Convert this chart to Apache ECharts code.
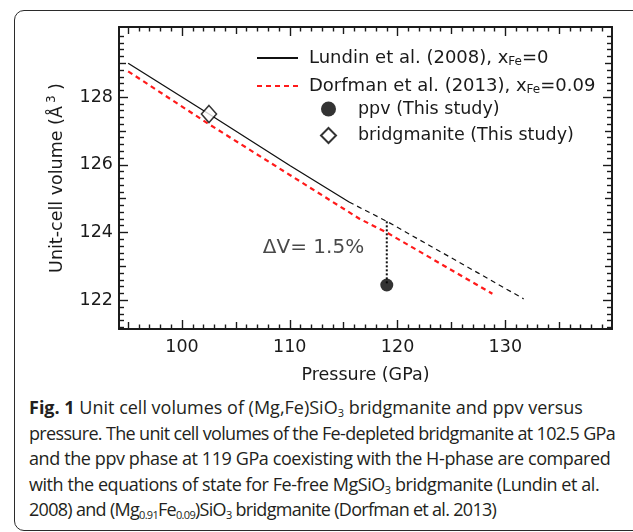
<!DOCTYPE html>
<html>
<head>
<meta charset="utf-8">
<script src="https://cdn.jsdelivr.net/npm/echarts@6/dist/echarts.min.js"></script>
<style>
  html, body { margin: 0; padding: 0; background: #fff; overflow: hidden; }
  #page { position: relative; width: 633px; height: 532px; overflow: hidden; }
  #box {
    position: absolute; left: 14px; top: 10px; width: 660px; height: 519px;
    border: 1.5px solid #2b2b2b; border-radius: 10px;
  }
  #chart { position: absolute; left: 0; top: 0; width: 633px; height: 392px; }
  #caption {
    position: absolute; left: 29px; top: 395px; width: 610px;
    font-family: "Open Sans", sans-serif; font-size: 18px; line-height: 25.5px;
    color: #231f20; white-space: nowrap;
  }
  #caption div { height: 25.5px; }
  #caption b { font-weight: 700; }
  #caption sub { font-size: 11px; vertical-align: -3px; line-height: 0; }
</style>
</head>
<body>
<div id="page">
  <div id="box"></div>
  <div id="chart"></div>
  <div id="caption">
    <div style="letter-spacing:0px"><b>Fig. 1</b> Unit cell volumes of (Mg,Fe)SiO<sub>3</sub> bridgmanite and ppv versus</div>
    <div style="letter-spacing:-0.66px">pressure. The unit cell volumes of the Fe-depleted bridgmanite at 102.5 GPa</div>
    <div style="letter-spacing:-0.4px">and the ppv phase at 119 GPa coexisting with the H-phase are compared</div>
    <div style="letter-spacing:-0.44px">with the equations of state for Fe-free MgSiO<sub>3</sub> bridgmanite (Lundin et al.</div>
    <div style="letter-spacing:-0.7px">2008) and (Mg<sub>0.91</sub>Fe<sub>0.09</sub>)SiO<sub>3</sub> bridgmanite (Dorfman et al. 2013)</div>
  </div>
</div>
<script>
// 读图得到的数据：压力 (GPa) / 体积 (Å^3)
const lundinSolid = [[95, 129.0], [102.5, 127.5], [110, 125.98], [115.5, 124.9]];
const lundinDashed = [[115.5, 124.9], [119, 124.33], [123, 123.61], [127.5, 122.8], [131.7, 122.04]];
const dorfman = [[95, 128.76], [102.5, 127.2], [110, 125.7], [116.5, 124.4], [119, 124.0], [127.5, 122.43], [128.8, 122.19]];
const ppv = [[119, 122.45]];
const bridgmanite = [[102.5, 127.5]];
const dvLine = [[119, 124.33], [119, 122.45]];
const dvLabel = [[112.2, 123.55]];

// 坐标轴
const X_MIN = 94.15, X_MAX = 139.9;
const Y_MIN = 121.15, Y_MAX = 130.07;
const X_LABELS = [100, 110, 120, 130];
const Y_LABELS = [122, 124, 126, 128];

const FONT = '"DejaVu Sans", sans-serif';
const FS = 17.5;
const INK = '#1a1a1a';

const NAMES = {
  lundin: 'Lundin et al. (2008), x_Fe=0',
  dorfman: 'Dorfman et al. (2013), x_Fe=0.09',
  ppv: 'ppv (This study)',
  bdg: 'bridgmanite (This study)',
};

// 刻度位置：小刻度 / 中刻度 / 大刻度
function steps(lo, hi, step) {
  const out = [];
  const n0 = Math.ceil(lo / step - 1e-9), n1 = Math.floor(hi / step + 1e-9);
  for (let n = n0; n <= n1; n++) out.push(+(n * step).toFixed(4));
  return out;
}
const xMinor = steps(X_MIN, X_MAX, 1).filter((v) => v % 5 !== 0);
const xMid = steps(X_MIN, X_MAX, 5).filter((v) => v % 10 !== 0);
const xMajor = X_LABELS;
const yMinor = steps(Y_MIN, Y_MAX, 0.2).filter((v) => Math.abs(v - Math.round(v)) > 1e-6);
const yMid = steps(Y_MIN, Y_MAX, 1).filter((v) => v % 2 !== 0);
const yMajor = Y_LABELS;

const tickLine = { color: INK, width: 1.4 };

function axis(pos, isX, ticks, len, labels, extra) {
  return Object.assign({
    type: 'value',
    position: pos,
    min: isX ? X_MIN : Y_MIN,
    max: isX ? X_MAX : Y_MAX,
    axisLine: { show: true, onZero: false, lineStyle: { color: INK, width: 1.5 } },
    axisTick: { show: true, inside: true, length: len, customValues: ticks, lineStyle: tickLine },
    axisLabel: labels
      ? { show: true, customValues: labels, color: INK, fontFamily: FONT, fontSize: FS, margin: isX ? 9 : 6 }
      : { show: false },
    splitLine: { show: false },
    minorTick: { show: false },
  }, extra || {});
}

const xAxes = [
  axis('bottom', true, xMajor, 9, X_LABELS, {
    name: 'Pressure (GPa)', nameLocation: 'middle', nameGap: 37,
    nameTextStyle: { color: INK, fontFamily: FONT, fontSize: FS },
  }),
  axis('bottom', true, xMid, 7),
  axis('bottom', true, xMinor, 4.5),
  axis('top', true, xMajor, 9),
  axis('top', true, xMid, 7),
  axis('top', true, xMinor, 4.5),
];
const yAxes = [
  axis('left', false, yMajor, 9, Y_LABELS, {
    name: '{t|Unit-cell volume (Å}{s|3}{t| )}', nameLocation: 'middle', nameGap: 51,
    nameTextStyle: {
      color: INK, fontFamily: FONT,
      rich: {
        t: { fontSize: FS, fontFamily: FONT, color: INK, lineHeight: 22 },
        s: { fontSize: 12, fontFamily: FONT, color: INK, lineHeight: 10, verticalAlign: 'top', padding: [0, 0, 0, 3] },
      },
    },
  }),
  axis('left', false, yMid, 7),
  axis('left', false, yMinor, 5),
  axis('right', false, yMajor, 9),
  axis('right', false, yMid, 7),
  axis('right', false, yMinor, 5),
];

function legendRich(name) {
  if (name === NAMES.lundin) return '{n|Lundin et al. (2008), x}{s|Fe}{n|=0}';
  if (name === NAMES.dorfman) return '{n|Dorfman et al. (2013), x}{s|Fe}{n|=0.09}';
  return '{n|' + name + '}';
}
const legendText = (padLeft, size) => ({
  color: INK, fontFamily: FONT, fontSize: size, padding: [0, 0, 0, padLeft],
  rich: {
    n: { fontSize: size, fontFamily: FONT, color: INK, lineHeight: 20 },
    s: { fontSize: 12, fontFamily: FONT, color: INK, lineHeight: 11, verticalAlign: 'bottom' },
  },
});

const chart = echarts.init(document.getElementById('chart'), null, { renderer: 'canvas' });
chart.setOption({
  animation: false,
  backgroundColor: 'transparent',
  grid: { left: 119, top: 27, right: 21, height: 302, containLabel: false },
  xAxis: xAxes,
  yAxis: yAxes,
  legend: [
    {
      data: [NAMES.lundin, NAMES.dorfman],
      orient: 'vertical', left: 256, top: 49, padding: 0,
      itemWidth: 41, itemHeight: 14, itemGap: 9,
      itemStyle: { opacity: 0 },
      formatter: legendRich, textStyle: legendText(6, 18),
      selectedMode: false,
    },
    {
      data: [NAMES.ppv, NAMES.bdg],
      orient: 'vertical', left: 320, top: 100, padding: 0,
      itemWidth: 15, itemHeight: 15, itemGap: 8.5,
      formatter: legendRich, textStyle: legendText(17, FS),
      selectedMode: false,
    },
  ],
  series: [
    {
      name: NAMES.lundin, type: 'line', data: lundinSolid, symbol: 'none',
      lineStyle: { color: '#111', width: 1.3, type: 'solid' }, itemStyle: { color: '#111' },
    },
    {
      name: 'Lundin extrapolated', type: 'line', data: lundinDashed, symbol: 'none',
      lineStyle: { color: '#111', width: 1.2, type: [5, 4] },
    },
    {
      name: NAMES.dorfman, type: 'line', data: dorfman, symbol: 'none',
      lineStyle: { color: '#ff1a1a', width: 2.2, type: [5, 4] }, itemStyle: { color: '#ff1a1a' },
    },
    {
      name: 'dV', type: 'line', data: dvLine, symbol: 'none',
      lineStyle: { color: '#111', width: 2, type: [2, 2] },
    },
    {
      name: NAMES.ppv, type: 'scatter', data: ppv, symbol: 'circle', symbolSize: 13, z: 5,
      itemStyle: { color: '#000' },
    },
    {
      name: NAMES.bdg, type: 'scatter', data: bridgmanite, symbol: 'diamond', symbolSize: [15, 17], z: 5,
      itemStyle: { color: '#fff', borderColor: '#000', borderWidth: 1.6 },
    },
    {
      name: 'dV label', type: 'scatter', data: dvLabel, symbolSize: 0, silent: true,
      label: {
        show: true, position: 'inside', formatter: 'ΔV= 1.5%',
        color: INK, fontFamily: FONT, fontSize: 20,
      },
    },
  ],
});
</script>
</body>
</html>
